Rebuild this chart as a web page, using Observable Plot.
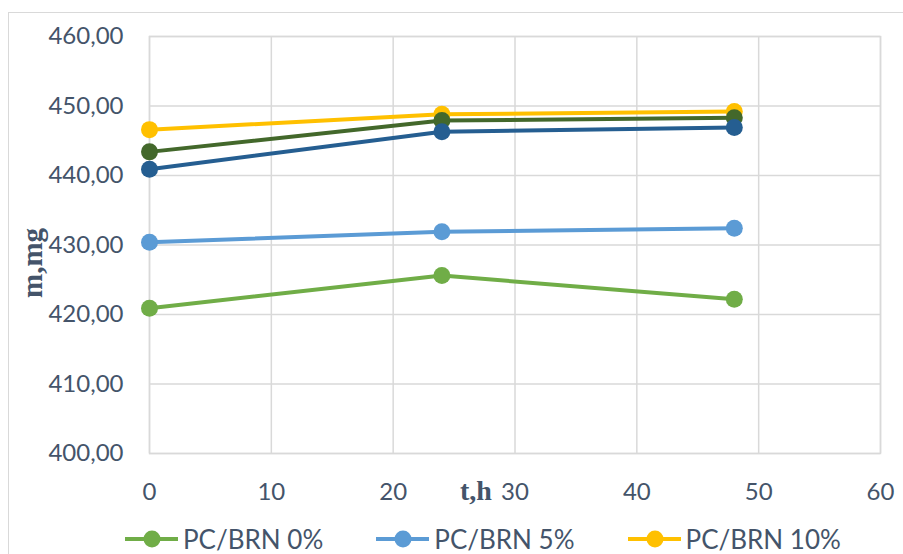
<!DOCTYPE html>
<html>
<head>
<meta charset="utf-8">
<script src="https://cdn.jsdelivr.net/npm/d3@7"></script>
<script src="https://cdn.jsdelivr.net/npm/@observablehq/plot@0.6"></script>
<style>
  html, body { margin: 0; padding: 0; background: #ffffff; overflow: hidden; width: 903px; height: 554px; }
  #wrap { position: relative; width: 903px; height: 554px; }
  #border { position: absolute; left: 8px; top: 12px; width: 1000px; height: 700px; border: 1px solid #d9d9d9; box-sizing: border-box; }
  #chart { position: absolute; left: 0; top: 0; }
  #legend { position: absolute; left: 125px; top: 528px; height: 22px; display: flex; align-items: center; gap: 53px;
            font-family: Lato, "Liberation Sans", sans-serif; font-size: 26px; line-height: 22px; color: #44546a; white-space: nowrap; }
  .item { display: flex; align-items: center; height: 22px; }
  .item svg { margin-right: 5px; }
</style>
</head>
<body>
<div id="wrap">
  <div id="border"></div>
  <div id="chart"></div>
  <div id="legend"></div>
</div>
<script>
// ---- data ----
const times = [0, 24, 48];
const seriesNames = ["PC/BRN 0%", "PC/BRN 5%", "PC/BRN 10%", "PC/BRN 15%", "PC/BRN 20%"];
const m0  = [420.9, 425.6, 422.2];
const m5  = [430.4, 431.9, 432.4];
const m10 = [446.6, 448.8, 449.2];
const m15 = [443.4, 447.9, 448.3];
const m20 = [440.9, 446.3, 446.9];
const seriesColors = ["#70AD47", "#5B9BD5", "#FFC000", "#43682B", "#255E91"];
const legendNames = ["PC/BRN 0%", "PC/BRN 5%", "PC/BRN 10%"];
const xTicks = [0, 10, 20, 30, 40, 50, 60];
const yTicks = [400, 410, 420, 430, 440, 450, 460];
const xTitle = "t,h";
const yTitle = "m,mg";

const seriesValues = [m0, m5, m10, m15, m20];
const data = seriesNames.flatMap((s, i) => times.map((t, j) => ({series: s, t, m: seriesValues[i][j]})));

const color = {domain: seriesNames, range: seriesColors};
const textColor = "#44546a";
const grid = "#d9d9d9";

const seriesMarks = seriesNames.flatMap(s => [
  Plot.line(data.filter(d => d.series === s), {x: "t", y: "m", stroke: "series", strokeWidth: 4}),
  Plot.dot(data.filter(d => d.series === s), {x: "t", y: "m", fill: "series", r: 8.5})
]);

const chart = Plot.plot({
  width: 903,
  height: 520,
  marginLeft: 149,
  marginRight: 23,
  marginTop: 36,
  marginBottom: 67,
  style: {fontFamily: 'Lato, "Liberation Sans", sans-serif', fontSize: "24px", color: textColor, background: "transparent", overflow: "visible"},
  x: {domain: [0, 60], label: null},
  y: {domain: [400, 460], label: null},
  color,
  marks: [
    Plot.gridX(xTicks, {stroke: grid, strokeOpacity: 1, strokeWidth: 1.5}),
    Plot.gridY(yTicks, {stroke: grid, strokeOpacity: 1, strokeWidth: 1.5}),
    Plot.frame({stroke: grid, strokeWidth: 1.5}),
    Plot.axisX(xTicks, {tickSize: 0, tickPadding: 29, label: null, fill: textColor}),
    Plot.axisY(yTicks, {tickSize: 0, tickPadding: 26, label: null, fill: textColor,
      tickFormat: d => d.toFixed(2).replace(".", ",")}),
    ...seriesMarks
  ]
});
document.getElementById("chart").appendChild(chart);

// axis titles
const svg = d3.select(chart);
svg.append("text")
  .attr("x", 476).attr("y", 500)
  .attr("text-anchor", "middle")
  .attr("font-family", '"Liberation Serif", "DejaVu Serif", serif')
  .attr("font-weight", "bold")
  .attr("font-size", 28)
  .attr("fill", textColor)
  .text(xTitle);
svg.append("text")
  .attr("transform", "translate(42,263) rotate(-90)")
  .attr("text-anchor", "middle")
  .attr("font-family", '"Liberation Serif", "DejaVu Serif", serif')
  .attr("font-weight", "bold")
  .attr("font-size", 29)
  .attr("fill", textColor)
  .text(yTitle);

// legend
const legend = d3.select("#legend");
legendNames.forEach(name => {
  const c = seriesColors[seriesNames.indexOf(name)];
  const item = legend.append("div").attr("class", "item");
  const s = item.append("svg").attr("width", 53).attr("height", 22);
  s.append("line").attr("x1", 0).attr("x2", 53).attr("y1", 11).attr("y2", 11).attr("stroke", c).attr("stroke-width", 4);
  s.append("circle").attr("cx", 27).attr("cy", 11).attr("r", 8.5).attr("fill", c);
  item.append("span").text(name);
});
</script>
</body>
</html>
